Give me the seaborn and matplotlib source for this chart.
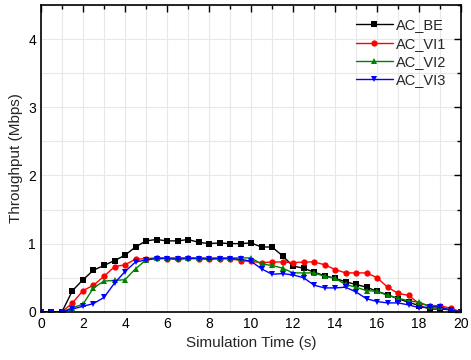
import numpy as np
import pandas as pd
import matplotlib
matplotlib.use("Agg")
import matplotlib.pyplot as plt
from matplotlib.ticker import MultipleLocator
import seaborn as sns

# Simulation time (s), sampled every 0.5 s
time = [i * 0.5 for i in range(41)]

ac_be = [0, 0, 0, 0.31, 0.47, 0.61, 0.68, 0.75, 0.83, 0.95,
         1.04, 1.06, 1.04, 1.04, 1.06, 1.02, 1.0, 1.01, 1.0, 1.0,
         1.01, 0.95, 0.95, 0.82, 0.67, 0.64, 0.58, 0.53, 0.49, 0.44,
         0.40, 0.36, 0.30, 0.25, 0.19, 0.14, 0.09, 0.04, 0.04, 0.03, 0]

ac_vi1 = [0, 0, 0, 0.13, 0.31, 0.39, 0.52, 0.66, 0.69, 0.77,
          0.78, 0.79, 0.78, 0.78, 0.79, 0.78, 0.78, 0.78, 0.78, 0.75,
          0.74, 0.72, 0.73, 0.73, 0.72, 0.73, 0.73, 0.69, 0.62, 0.57,
          0.57, 0.57, 0.50, 0.36, 0.27, 0.24, 0.12, 0.09, 0.09, 0.05, 0]

ac_vi2 = [0, 0, 0, 0.06, 0.11, 0.35, 0.45, 0.46, 0.47, 0.63,
          0.76, 0.79, 0.79, 0.79, 0.79, 0.79, 0.79, 0.79, 0.79, 0.79,
          0.79, 0.70, 0.68, 0.64, 0.57, 0.57, 0.57, 0.52, 0.49, 0.40,
          0.36, 0.31, 0.30, 0.24, 0.20, 0.16, 0.14, 0.08, 0.07, 0.02, 0]

ac_vi3 = [0, 0, 0, 0.04, 0.08, 0.12, 0.21, 0.42, 0.59, 0.73,
          0.76, 0.78, 0.78, 0.77, 0.78, 0.78, 0.77, 0.78, 0.78, 0.77,
          0.74, 0.63, 0.55, 0.56, 0.54, 0.50, 0.39, 0.35, 0.35, 0.36,
          0.29, 0.19, 0.15, 0.13, 0.13, 0.10, 0.06, 0.07, 0.07, 0.02, 0]

names = ["AC_BE", "AC_VI1", "AC_VI2", "AC_VI3"]
colors = ["black", "red", "green", "blue"]
markers = ["s", "o", "^", "v"]

df = pd.concat([
    pd.DataFrame({"Time": time, "Throughput": vals, "Class": name})
    for name, vals in zip(names, [ac_be, ac_vi1, ac_vi2, ac_vi3])
])

sns.set_style("white")
plt.rcParams["font.family"] = ["Liberation Sans", "DejaVu Sans"]

fig = plt.figure(figsize=(4.71, 3.6), dpi=100)
ax = fig.add_axes([0.087, 0.134, 0.892, 0.852])

sns.lineplot(
    data=df, x="Time", y="Throughput", hue="Class", style="Class",
    palette=dict(zip(names, colors)), markers=dict(zip(names, markers)),
    dashes=False, markersize=4.5, linewidth=1, markeredgewidth=0, ax=ax
)

ax.set_xlim(0, 20)
ax.set_ylim(0, 4.5)
ax.xaxis.set_major_locator(MultipleLocator(2))
ax.xaxis.set_minor_locator(MultipleLocator(1))
ax.yaxis.set_major_locator(MultipleLocator(1))
ax.yaxis.set_minor_locator(MultipleLocator(0.5))
ax.grid(True, which="both", color="#e8e8e8", linewidth=0.8)
ax.set_axisbelow(True)
ax.tick_params(which="both", direction="in", top=True, right=True,
               labelsize=10, colors="black", width=1)
ax.tick_params(which="major", length=5)
ax.tick_params(which="minor", length=3)
for s in ax.spines.values():
    s.set_color("black")
    s.set_linewidth(1.2)

ax.set_xlabel("Simulation Time (s)", fontsize=11)
ax.set_ylabel("Throughput (Mbps)", fontsize=11)

leg = ax.legend(loc="upper right", frameon=False, fontsize=10.5,
                handlelength=2.5, handletextpad=0.25, labelspacing=0.3,
                borderaxespad=0.3, bbox_to_anchor=(0.99, 0.99))

fig.savefig("out.png", dpi=100)
